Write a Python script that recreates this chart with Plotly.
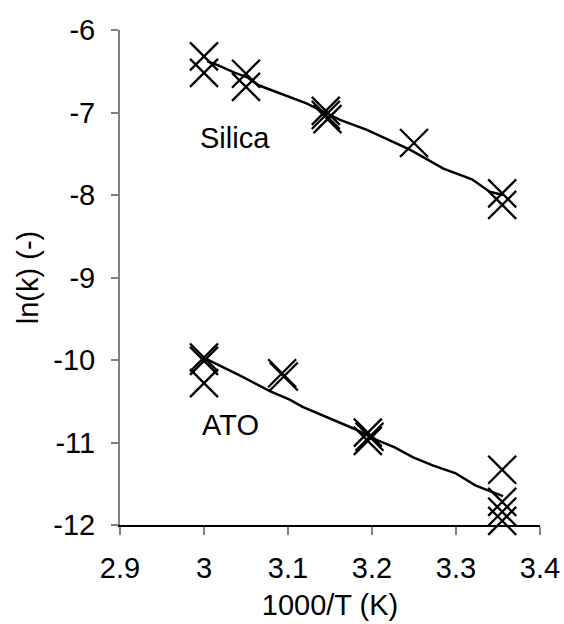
import plotly.graph_objects as go

# Measured data (markers)
silica_x = [3.0, 3.0, 3.05, 3.05, 3.145, 3.145, 3.147, 3.25, 3.355, 3.355]
silica_y = [-6.32, -6.52, -6.53, -6.69, -6.98, -7.03, -7.08, -7.37, -7.98, -8.12]

ato_x = [3.0, 3.0, 3.0, 3.093, 3.095, 3.195, 3.197, 3.195, 3.355, 3.355, 3.355, 3.355]
ato_y = [-9.97, -10.01, -10.28, -10.16, -10.20, -10.88, -10.93, -10.98, -11.33, -11.72, -11.84, -11.95]

# Model curves
silica_fit_x = [3.004, 3.015, 3.037, 3.051, 3.065, 3.094, 3.122, 3.146, 3.162, 3.194,
                3.229, 3.245, 3.261, 3.285, 3.319, 3.340, 3.356]
silica_fit_y = [-6.38, -6.42, -6.52, -6.57, -6.67, -6.78, -6.89, -7.01, -7.09, -7.21,
                -7.37, -7.45, -7.54, -7.68, -7.81, -7.96, -8.00]

ato_fit_x = [3.003, 3.043, 3.079, 3.102, 3.118, 3.146, 3.178, 3.206, 3.227, 3.249,
             3.273, 3.299, 3.323, 3.338, 3.356]
ato_fit_y = [-9.99, -10.19, -10.38, -10.48, -10.57, -10.69, -10.83, -10.97, -11.06, -11.18,
             -11.28, -11.37, -11.52, -11.58, -11.65]

x_ticks = [2.9, 3.0, 3.1, 3.2, 3.3, 3.4]
x_tick_text = ["2.9", "3", "3.1", "3.2", "3.3", "3.4"]
y_ticks = [-12, -11, -10, -9, -8, -7, -6]
y_tick_text = ["-12", "-11", "-10", "-9", "-8", "-7", "-6"]

FONT = "Liberation Sans, Arial, sans-serif"
FS = 29

fig = go.Figure()
for fx, fy in [(silica_fit_x, silica_fit_y), (ato_fit_x, ato_fit_y)]:
    fig.add_trace(go.Scatter(x=fx, y=fy, mode="lines",
                             line=dict(color="black", width=2.5),
                             showlegend=False, cliponaxis=False))
for mx, my in [(silica_x, silica_y), (ato_x, ato_y)]:
    fig.add_trace(go.Scatter(x=mx, y=my, mode="markers",
                             marker=dict(symbol="x-thin", size=28,
                                         line=dict(color="black", width=2.3)),
                             showlegend=False, cliponaxis=False))

fig.add_annotation(x=3.037, y=-7.31, text="Silica", showarrow=False,
                   font=dict(family=FONT, size=FS, color="black"))
fig.add_annotation(x=3.031, y=-10.79, text="ATO", showarrow=False,
                   font=dict(family=FONT, size=FS, color="black"))

fig.update_layout(
    width=564, height=624,
    margin=dict(l=120, r=24, t=30, b=99),
    paper_bgcolor="white", plot_bgcolor="white",
    font=dict(family=FONT, size=FS, color="black"),
    xaxis=dict(range=[2.9, 3.4], tickvals=x_ticks, ticktext=x_tick_text,
               showgrid=False, zeroline=False, automargin=False,
               showline=True, linecolor="black", linewidth=1.5,
               ticks="outside", ticklen=8, tickcolor="#808080", tickwidth=1.5,
               ticklabelstandoff=8,
               tickfont=dict(family=FONT, size=FS),
               title=dict(text="1000/T (K)", standoff=12,
                          font=dict(family=FONT, size=FS))),
    yaxis=dict(range=[-12, -6], tickvals=y_ticks, ticktext=y_tick_text,
               showgrid=False, zeroline=False, automargin=False,
               showline=True, linecolor="#808080", linewidth=2,
               ticks="outside", ticklen=7, tickcolor="#808080", tickwidth=1.5,
               ticklabelstandoff=10,
               tickfont=dict(family=FONT, size=FS),
               title=dict(text="ln(k) (-)", standoff=6,
                          font=dict(family=FONT, size=FS))),
)

fig.write_html("out.html")
